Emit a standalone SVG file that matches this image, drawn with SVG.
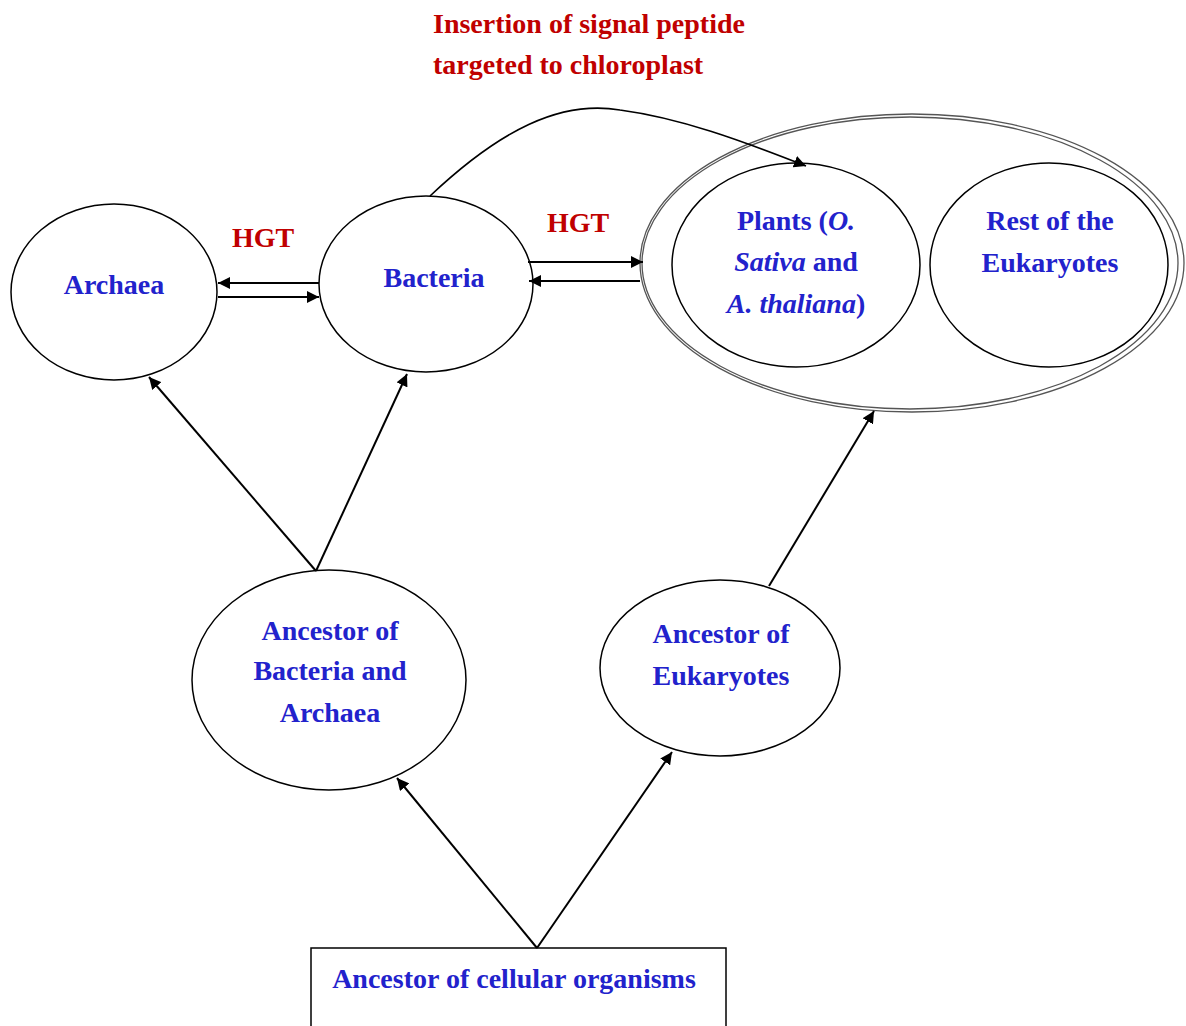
<svg xmlns="http://www.w3.org/2000/svg" width="1186" height="1026" viewBox="0 0 1186 1026">
<defs>
<marker id="ah" viewBox="0 0 10 10" refX="10" refY="5" markerWidth="12" markerHeight="12" markerUnits="userSpaceOnUse" orient="auto">
<path d="M0,0 L10,5 L0,10 z" fill="#000"/>
</marker>
</defs>
<style>
.n{fill:#fff;stroke:#000;stroke-width:1.5}
.o{fill:none;stroke:#555;stroke-width:1.3}
.t{font-family:"Liberation Serif",serif;font-weight:bold;font-size:28px;fill:#2222cc;text-anchor:middle}
.r{font-family:"Liberation Serif",serif;font-weight:bold;font-size:28px;fill:#c00000}
.c{fill:none;stroke:#000;stroke-width:2;marker-end:url(#ah)}
</style>
<rect width="1186" height="1026" fill="#fff"/>
<g id="title">
<text class="r" x="433" y="33">Insertion of signal peptide</text>
<text class="r" x="433" y="74">targeted to chloroplast</text>
</g>
<g id="eukaryotes">
<ellipse class="o" cx="912" cy="263" rx="272" ry="149"/>
<ellipse class="o" cx="910" cy="263" rx="268" ry="146"/>
</g>
<g id="archaea">
<ellipse class="n" cx="114" cy="292" rx="103" ry="88"/>
<text class="t" x="114" y="294">Archaea</text>
</g>
<g id="bacteria">
<ellipse class="n" cx="426" cy="284" rx="107" ry="88"/>
<text class="t" x="434" y="287">Bacteria</text>
</g>
<g id="plants">
<ellipse class="n" cx="796" cy="265" rx="124" ry="102"/>
<text class="t" x="796" y="230">Plants (<tspan font-style="italic">O.</tspan></text>
<text class="t" x="796" y="271"><tspan font-style="italic">Sativa</tspan> and</text>
<text class="t" x="796" y="313"><tspan font-style="italic">A. thaliana</tspan>)</text>
</g>
<g id="rest">
<ellipse class="n" cx="1049" cy="265" rx="119" ry="102"/>
<text class="t" x="1050" y="230">Rest of the</text>
<text class="t" x="1050" y="272">Eukaryotes</text>
</g>
<g id="ancestor-ba">
<ellipse class="n" cx="329" cy="680" rx="137" ry="110"/>
<text class="t" x="330" y="640">Ancestor of</text>
<text class="t" x="330" y="680">Bacteria and</text>
<text class="t" x="330" y="722">Archaea</text>
</g>
<g id="ancestor-euk">
<ellipse class="n" cx="720" cy="668" rx="120" ry="88"/>
<text class="t" x="721" y="643">Ancestor of</text>
<text class="t" x="721" y="685">Eukaryotes</text>
</g>
<g id="root">
<rect class="n" x="311" y="948" width="415" height="90"/>
<text class="t" x="514" y="988">Ancestor of cellular organisms</text>
</g>
<g id="connectors">
<path class="c" d="M319,283 L218,283"/>
<path class="c" d="M218,297 L319,297"/>
<path class="c" d="M528,262 L643,262"/>
<path class="c" d="M640,281 L529,281"/>
<path class="c" d="M316,571 L149,377"/>
<path class="c" d="M316,571 L407,374"/>
<path class="c" d="M769,586 L874,411"/>
<path class="c" d="M537,948 L397,778"/>
<path class="c" d="M537,948 L672,752"/>
<path class="c" d="M430,196 C500,130 560,100 620,110 C680,118 740,140 806,166" style="stroke-width:1.6"/>
<text class="r" x="263" y="247" text-anchor="middle">HGT</text>
<text class="r" x="578" y="232" text-anchor="middle">HGT</text>
</g>
</svg>
